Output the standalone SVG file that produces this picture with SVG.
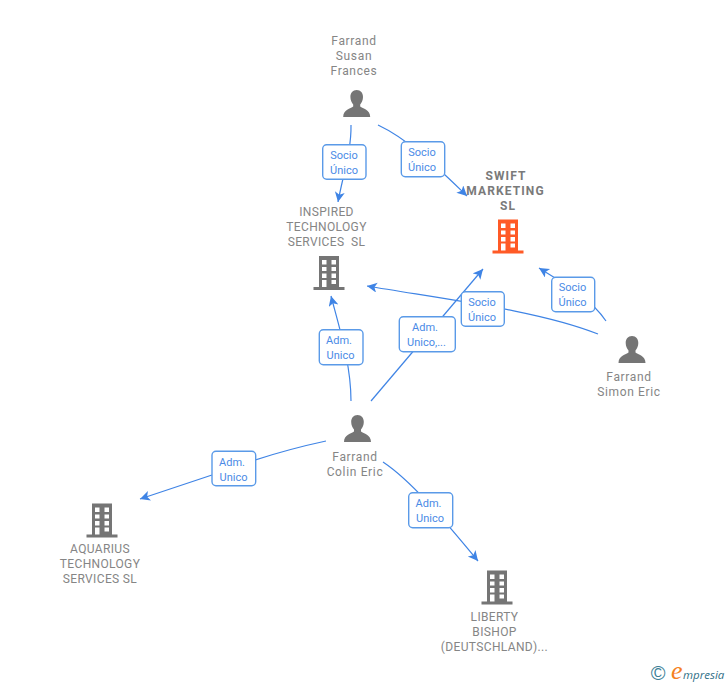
<svg xmlns="http://www.w3.org/2000/svg" xmlns:xlink="http://www.w3.org/1999/xlink" width="728" height="685" viewBox="0 0 728 685">
<style>
.t{font-family:Roboto,"Liberation Sans",sans-serif;font-size:12px;letter-spacing:.35px;fill:#858585;text-anchor:middle}
.p{letter-spacing:.65px}
.b{font-weight:bold;fill:#7a7a7a;letter-spacing:1.1px}
.c{fill:none;stroke:#3f84e5;stroke-width:1.2;marker-end:url(#a)}
.l{fill:#fff;stroke:#5a9ae8;stroke-width:1.4}
.lt{font-family:Roboto,"Liberation Sans",sans-serif;font-size:11px;fill:#4a8ae6;text-anchor:middle}
.g{fill:#757575}.o{fill:#ff5a26}
</style>
<defs>
<marker id="a" markerUnits="userSpaceOnUse" markerWidth="12" markerHeight="12" refX="10" refY="5" orient="auto">
<path d="M0 0L10 5L0 10L2.500 5Z" fill="#3f84e5"/>
</marker>
<path id="bld" fill-rule="evenodd" d="M-10 0H10V31H15.500V34H-15.500V31H-10ZM-7 4V8.500H-2.500V4ZM2.500 4V8.500H7V4ZM-7 11V15H-2.500V11ZM2.500 11V15H7V11ZM-7 17.500V22H-2.500V17.500ZM2.500 17.500V22H7V17.500ZM-7 24V31H-2.500V24ZM2.500 24V28H7V24Z"/>
<path id="per" d="M0 0C4 0 6.300 3 6.300 7C6.300 10 5 13 3.500 14.500V16.500C6 18.500 13.500 19.500 13.500 27H-13.500C-13.500 19.500 -6 18.500 -3.500 16.500V14.500C-5 13 -6.300 10 -6.300 7C-6.300 3 -4 0 0 0Z"/>
</defs>
<g id="connectors">
<path class="c" d="M351 125C351.500 150 343 175 338 202"/>
<path class="c" d="M378 125C410 140 440 170 467 196"/>
<path class="c" d="M606 321C590 298 565 284 539 268"/>
<path class="c" d="M598 334C540 311 450 300 367 286"/>
<path class="c" d="M371 401L483 269"/>
<path class="c" d="M351 401C351 365 340 330 331 296"/>
<path class="c" d="M326 441Q270 453 212 475L140 499"/>
<path class="c" d="M383 462C410 480 440 515 478 561"/>
</g>
<g id="edge-labels">
<g><rect class="l" x="322.700" y="144.700" width="43.300" height="34.600" rx="4"/><text class="lt" x="344" y="158.500">Socio</text><text class="lt" x="344" y="173.500">Único</text></g>
<g><rect class="l" x="401.300" y="141.700" width="43.400" height="35" rx="4"/><text class="lt" x="422" y="155.500">Socio</text><text class="lt" x="422" y="170.500">Único</text></g>
<g><rect class="l" x="551.700" y="277.300" width="43" height="34.400" rx="4"/><text class="lt" x="572.500" y="291">Socio</text><text class="lt" x="572.500" y="306">Único</text></g>
<g><rect class="l" x="461.300" y="291.700" width="43" height="34.600" rx="4"/><text class="lt" x="482" y="305.500">Socio</text><text class="lt" x="482" y="320.500">Único</text></g>
<g><rect class="l" x="399.300" y="316.700" width="56" height="35" rx="4"/><text class="lt" x="425" y="330.500">Adm.</text><text class="lt" x="426.500" y="345.500">Unico,...</text></g>
<g><rect class="l" x="319.300" y="329.700" width="43.700" height="35" rx="4"/><text class="lt" x="339" y="343.500">Adm.</text><text class="lt" x="340.500" y="358.500">Unico</text></g>
<g><rect class="l" x="212" y="451.300" width="43.700" height="34.400" rx="4"/><text class="lt" x="232" y="465.500">Adm.</text><text class="lt" x="233.500" y="480.500">Unico</text></g>
<g><rect class="l" x="408.700" y="492.700" width="44" height="35" rx="4"/><text class="lt" x="428.500" y="506.500">Adm.</text><text class="lt" x="430" y="521.500">Unico</text></g>
</g>
<g id="susan"><use href="#per" class="g" x="356.700" y="90"/><text class="t p" x="354" y="45">Farrand</text><text class="t p" x="354" y="60">Susan</text><text class="t p" x="354" y="75">Frances</text></g>
<g id="swift"><use href="#bld" class="o" x="508" y="219.500"/><text class="t b" x="506" y="180">SWIFT</text><text class="t b" x="505.500" y="195">MARKETING</text><text class="t b" x="508" y="210">SL</text></g>
<g id="inspired"><use href="#bld" class="g" x="329" y="256"/><text class="t" x="326.500" y="216">INSPIRED</text><text class="t" x="326.500" y="231">TECHNOLOGY</text><text class="t" x="326.500" y="246">SERVICES&#160; SL</text></g>
<g id="simon"><use href="#per" class="g" x="632" y="336"/><text class="t p" x="629" y="381">Farrand</text><text class="t p" x="629" y="396">Simon Eric</text></g>
<g id="colin"><use href="#per" class="g" x="357.500" y="415"/><text class="t p" x="355" y="461">Farrand</text><text class="t p" x="355" y="476">Colin Eric</text></g>
<g id="aquarius"><use href="#bld" class="g" x="102" y="503.500"/><text class="t" x="100" y="553">AQUARIUS</text><text class="t" x="100" y="568">TECHNOLOGY</text><text class="t" x="100" y="583">SERVICES SL</text></g>
<g id="liberty"><use href="#bld" class="g" x="497" y="570.500"/><text class="t" x="494.500" y="621">LIBERTY</text><text class="t" x="494.500" y="636">BISHOP</text><text class="t" x="494.500" y="651">(DEUTSCHLAND)...</text></g>
<g id="logo">
<text x="658" y="680" font-family="'Liberation Sans',sans-serif" font-size="20" fill="#3d7f97" text-anchor="middle">©</text>
<text x="671" y="679" font-family="'Liberation Serif',serif" font-style="italic" font-size="26" fill="#f5811f">e</text>
<text x="683" y="679" font-family="'Open Sans',sans-serif" font-style="italic" font-size="11.500" fill="#2f6f87">mpresia</text>
</g>
</svg>
